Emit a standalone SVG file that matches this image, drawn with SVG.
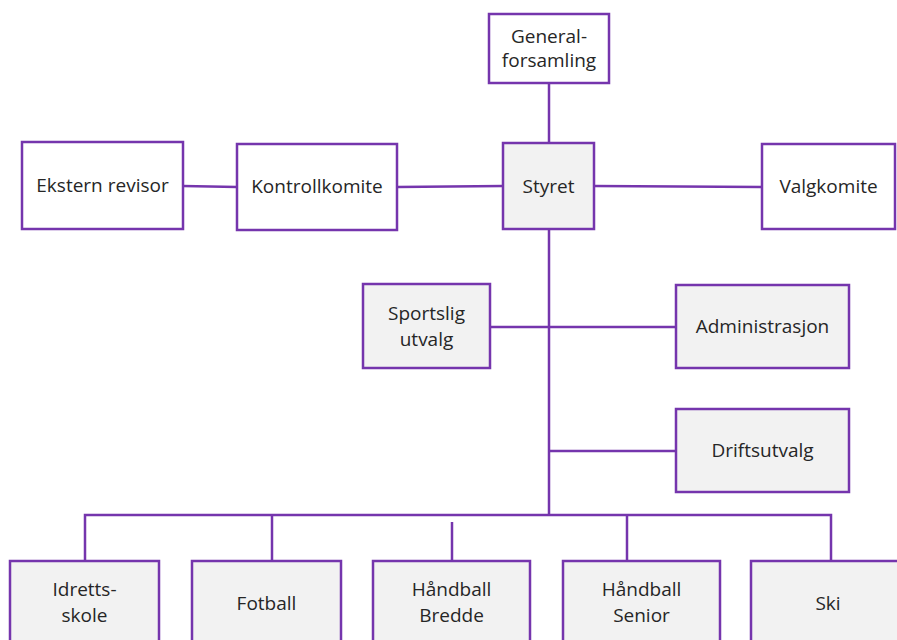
<svg xmlns="http://www.w3.org/2000/svg" width="897" height="640" viewBox="0 0 897 640">
<style>
.box{stroke:#7535ad;stroke-width:2.5}
.w{fill:#ffffff}
.g{fill:#f2f2f2}
.t{font-family:"Open Sans","Noto Sans",sans-serif;font-size:19px;fill:#262626;text-anchor:middle}
.c{stroke:#7535ad;stroke-width:2.5;fill:none}
</style>
<rect width="897" height="640" fill="#ffffff"/>
<g id="connectors">
<line class="c" x1="549" y1="83" x2="549" y2="143"/>
<line class="c" x1="183" y1="186" x2="237" y2="187"/>
<line class="c" x1="397" y1="187" x2="503" y2="186"/>
<line class="c" x1="594" y1="186" x2="762" y2="187"/>
<line class="c" x1="549" y1="229" x2="549" y2="515"/>
<line class="c" x1="490" y1="327" x2="676" y2="327"/>
<line class="c" x1="549" y1="451" x2="676" y2="451"/>
<polyline class="c" points="85,561 85,515 831,515 831,561"/>
<line class="c" x1="272" y1="515" x2="272" y2="561"/>
<line class="c" x1="452" y1="522" x2="452" y2="561"/>
<line class="c" x1="627" y1="515" x2="627" y2="561"/>
</g>
<g id="generalforsamling">
<rect class="box w" x="489" y="14" width="120" height="69"/>
<text class="t" x="549" y="43">General-</text>
<text class="t" x="549" y="67">forsamling</text>
</g>
<g id="styret">
<rect class="box g" x="503" y="143" width="91" height="86"/>
<text class="t" x="548.5" y="193">Styret</text>
</g>
<g id="valgkomite">
<rect class="box w" x="762" y="144" width="133" height="85"/>
<text class="t" x="828.5" y="193">Valgkomite</text>
</g>
<g id="ekstern-revisor">
<rect class="box w" x="22" y="142" width="161" height="87"/>
<text class="t" x="102.5" y="192">Ekstern revisor</text>
</g>
<g id="kontrollkomite">
<rect class="box w" x="237" y="144" width="160" height="86"/>
<text class="t" x="317" y="193">Kontrollkomite</text>
</g>
<g id="sportslig-utvalg">
<rect class="box g" x="363" y="284" width="127" height="84"/>
<text class="t" x="426.5" y="320">Sportslig</text>
<text class="t" x="426.5" y="346">utvalg</text>
</g>
<g id="administrasjon">
<rect class="box g" x="676" y="285" width="173" height="83"/>
<text class="t" x="762.5" y="333">Administrasjon</text>
</g>
<g id="driftsutvalg">
<rect class="box g" x="676" y="409" width="173" height="83"/>
<text class="t" x="762.5" y="457">Driftsutvalg</text>
</g>
<g id="idrettsskole">
<rect class="box g" x="10" y="561" width="149" height="85"/>
<text class="t" x="84.5" y="596">Idretts-</text>
<text class="t" x="84.5" y="622">skole</text>
</g>
<g id="fotball">
<rect class="box g" x="192" y="561" width="149" height="85"/>
<text class="t" x="266.5" y="610">Fotball</text>
</g>
<g id="handball-bredde">
<rect class="box g" x="373" y="561" width="157" height="85"/>
<text class="t" x="451.5" y="596">Håndball</text>
<text class="t" x="451.5" y="622">Bredde</text>
</g>
<g id="handball-senior">
<rect class="box g" x="563" y="561" width="157" height="85"/>
<text class="t" x="641.5" y="596">Håndball</text>
<text class="t" x="641.5" y="622">Senior</text>
</g>
<g id="ski">
<rect class="box g" x="751" y="561" width="160" height="85"/>
<text class="t" x="828" y="610">Ski</text>
</g>
</svg>
